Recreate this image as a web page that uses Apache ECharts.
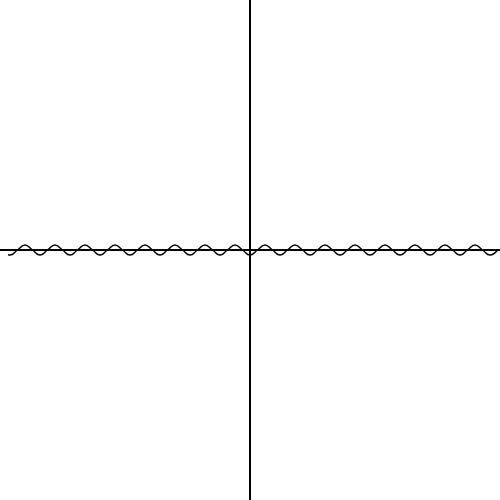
<!DOCTYPE html>
<html>
<head>
<meta charset="utf-8">
<script src="https://cdn.jsdelivr.net/npm/echarts@6/dist/echarts.min.js"></script>
<style>html,body{margin:0;padding:0;background:#fff;}#c{width:500px;height:500px;}</style>
</head>
<body>
<div id="c"></div>
<script>
var xValues = [-48.4, -48, -46.5, -45, -43.5, -42, -40.5, -39, -37.5, -36, -34.5, -33, -31.5, -30, -28.5, -27, -25.5, -24, -22.5, -21, -19.5, -18, -16.5, -15, -13.5, -12, -10.5, -9, -7.5, -6, -4.5, -3, -1.5, 0, 1.5, 3, 4.5, 6, 7.5, 9, 10.5, 12, 13.5, 15, 16.5, 18, 19.5, 21, 22.5, 24, 25.5, 27, 28.5, 30, 31.5, 33, 34.5, 36, 37.5, 39, 40.5, 42, 43.5, 45, 46.5, 48, 49.5];
var yValues = [-0.95, -1, 0, 1, 0, -1, 0, 1, 0, -1, 0, 1, 0, -1, 0, 1, 0, -1, 0, 1, 0, -1, 0, 1, 0, -1, 0, 1, 0, -1, 0, 1, 0, -1, 0, 1, 0, -1, 0, 1, 0, -1, 0, 1, 0, -1, 0, 1, 0, -1, 0, 1, 0, -1, 0, 1, 0, -1, 0, 1, 0, -1, 0, 1, 0, -1, 0];
var xRange = [-50, 50];
var yRange = [-50, 50];

var pts = xValues.map(function (x, i) { return [x, yValues[i]]; });
var chart = echarts.init(document.getElementById('c'), null, {renderer: 'canvas'});
var axisCommon = {
  type: 'value',
  axisLine: {show: true, onZero: true, lineStyle: {color: '#000', width: 2}},
  axisTick: {show: false},
  axisLabel: {show: false},
  splitLine: {show: false}
};
chart.setOption({
  animation: false,
  backgroundColor: '#fff',
  grid: {left: 0, right: 0, top: 0, bottom: 0, containLabel: false},
  xAxis: Object.assign({}, axisCommon, {min: xRange[0], max: xRange[1]}),
  yAxis: Object.assign({}, axisCommon, {min: yRange[0], max: yRange[1]}),
  series: [{
    type: 'line',
    data: pts,
    smooth: 0.5,
    showSymbol: false,
    lineStyle: {color: '#000', width: 1.5}
  }]
});
</script>
</body>
</html>
